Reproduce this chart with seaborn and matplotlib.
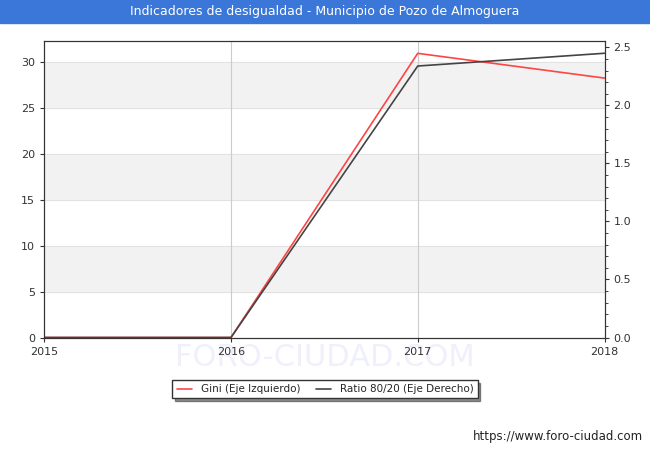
import matplotlib
matplotlib.use("Agg")
import matplotlib.pyplot as plt
import seaborn as sns
import pandas as pd

years = [2015, 2016, 2017, 2018]
gini = [0, 0, 31.0, 28.3]
ratio = [0, 0, 2.34, 2.45]

sns.set_style("white")
plt.rcParams['font.family'] = ['DejaVu Sans']
fig = plt.figure(figsize=(6.5, 4.5), dpi=100)
fig.patch.set_facecolor("white")
ax = fig.add_axes([0.068, 0.25, 0.862, 0.66])
ax2 = ax.twinx()

for lo in [5, 15, 25]:
    ax.axhspan(lo, lo + 5, color="#f2f2f2", zorder=0)
for y in [5, 10, 15, 20, 25, 30]:
    ax.axhline(y, color="#e0e0e0", lw=0.6, zorder=0)
for x in [2016, 2017]:
    ax.axvline(x, color="#cccccc", lw=0.8, zorder=0)

df = pd.DataFrame({"year": years, "gini": gini, "ratio": ratio})
sns.lineplot(data=df, x="year", y="gini", ax=ax, color="#ff4444", lw=1.2, label="Gini (Eje Izquierdo)", legend=False)
sns.lineplot(data=df, x="year", y="ratio", ax=ax2, color="#444444", lw=1.2, label="Ratio 80/20 (Eje Derecho)", legend=False)

ax.set_xlim(2015, 2018)
ax.set_ylim(0, 32.4)
ax2.set_ylim(0, 2.56)
ax.set_xticks(years)
ax.set_yticks([0, 5, 10, 15, 20, 25, 30])
ax2.set_yticks([0, 0.5, 1.0, 1.5, 2.0, 2.5])
ax2.set_yticklabels(["0.0", "0.5", "1.0", "1.5", "2.0", "2.5"])
ax2.minorticks_on()
ax2.xaxis.set_tick_params(which="minor", bottom=False)
for a in (ax, ax2):
    a.set_xlabel(""); a.set_ylabel("")
    a.tick_params(labelsize=8, colors="#333333", length=3)
    for s in a.spines.values():
        s.set_color("#333333"); s.set_linewidth(0.8)
ax.tick_params(axis="y", left=True)
ax2.tick_params(axis="y", which="both", right=True)
ax.tick_params(axis="x", bottom=True)

fig.text(0.5, 0.205, "FORO-CIUDAD.COM", ha="center", va="center", fontsize=22, color="#f0f0fc", zorder=-2)

fig.patches.append(matplotlib.patches.Rectangle((0, 0.95), 1, 0.05, transform=fig.transFigure, color="#3a77d9", zorder=-1))
fig.text(0.5, 0.975, "Indicadores de desigualdad - Municipio de Pozo de Almoguera", ha="center", va="center", color="white", fontsize=9)

h1, l1 = ax.get_legend_handles_labels()
h2, l2 = ax2.get_legend_handles_labels()
leg = fig.legend(h1 + h2, l1 + l2, loc="center", bbox_to_anchor=(0.5, 0.135), ncol=2, fontsize=7.5,
                 frameon=True, fancybox=False, shadow={"color": "#222222"}, edgecolor="#333333",
                 handlelength=1.5, columnspacing=1.5)
fig.text(0.99, 0.03, "https://www.foro-ciudad.com", ha="right", va="center", fontsize=8.5, color="#222222")
fig.savefig("out.png", dpi=100)
